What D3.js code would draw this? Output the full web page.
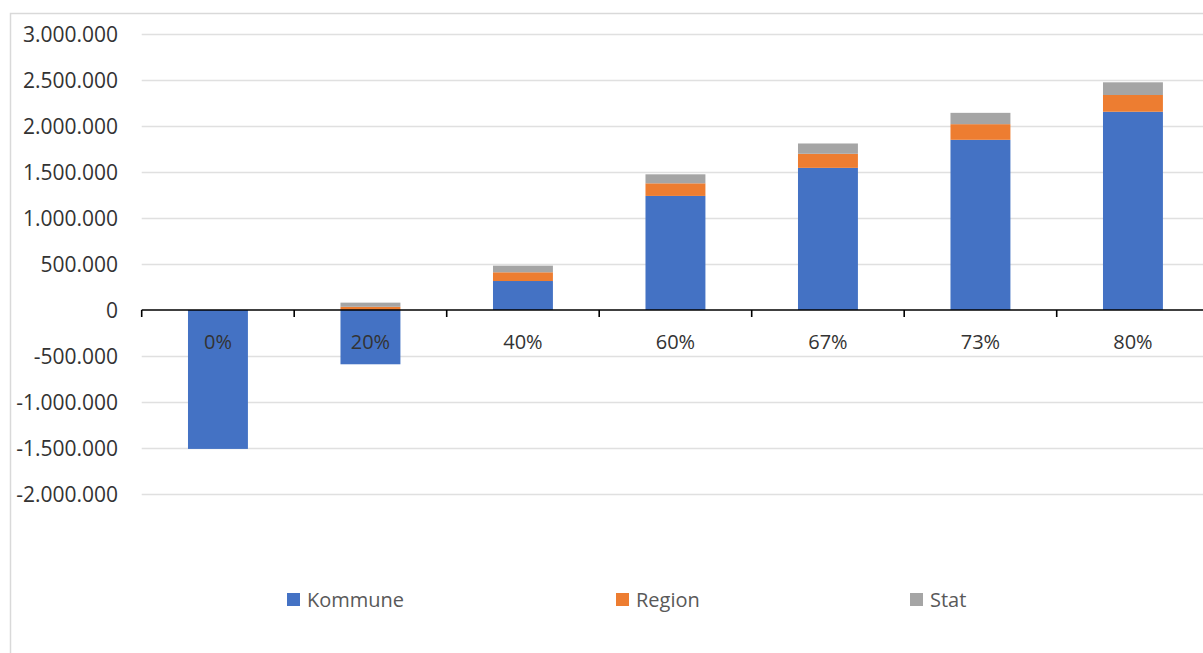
<!DOCTYPE html>
<html>
<head>
<meta charset="utf-8">
<script src="https://cdn.jsdelivr.net/npm/d3@7"></script>
<style>
  html, body { margin: 0; padding: 0; background: #fff; }
  svg { display: block; }
  text { font-family: "Open Sans", "Liberation Sans", sans-serif; }
</style>
</head>
<body>
<svg id="chart" width="1203" height="653"></svg>
<script>
// ---- Data ----
const categories = ["0%", "20%", "40%", "60%", "67%", "73%", "80%"];
const seriesNames = ["Kommune", "Region", "Stat"];
const kommune = [-1510000, -590000, 315000, 1240000, 1545000, 1850000, 2155000];
const region  = [0, 35000, 95000, 137000, 153000, 170000, 182000];
const stat    = [0, 45000, 72000, 98000, 112000, 123000, 138000];
const yTicks  = [-2000000, -1500000, -1000000, -500000, 0, 500000, 1000000, 1500000, 2000000, 2500000, 3000000];

// ---- Layout / style ----
const W = 1203, H = 653;
const colors = {Kommune: "#4472C4", Region: "#ED7D31", Stat: "#A5A5A5"};
const plotLeft = 141.7, slot = 152.5;
const svg = d3.select("#chart");
svg.append("rect").attr("width", W).attr("height", H).attr("fill", "#fff");

// chart-area border (top & left visible)
svg.append("path")
  .attr("d", `M10.5,${H} L10.5,13.5 L${W},13.5`)
  .attr("fill", "none").attr("stroke", "#d9d9d9").attr("stroke-width", 1.5);

const x = d3.scaleBand().domain(categories)
  .range([plotLeft, plotLeft + slot * categories.length])
  .paddingInner(0.607).paddingOuter(0.3035);
const y = d3.scaleLinear().domain([-2000000, 3000000]).range([494, 34]);

const loc = d3.formatLocale({decimal: ",", thousands: ".", grouping: [3], currency: ["", " kr"], minus: "-"});
const fmt = loc.format(",.0f");

// gridlines
const grid = svg.append("g").attr("transform", `translate(${plotLeft},0)`)
  .call(d3.axisLeft(y).tickValues(yTicks.filter(t => t !== 0)).tickSize(-(W - plotLeft)).tickFormat(""));
grid.select(".domain").remove();
grid.selectAll("line").attr("stroke", "#e0e0e0").attr("stroke-width", 1.6);

// y labels
const yAx = svg.append("g").attr("transform", `translate(${plotLeft},0)`)
  .call(d3.axisLeft(y).tickValues(yTicks).tickSize(0).tickPadding(23.7).tickFormat(fmt));
yAx.select(".domain").remove();
yAx.selectAll("text").attr("font-size", 21).attr("fill", "#333").attr("dy", "0.38em");

// stacked bars
const rows = categories.map((c, i) => ({cat: c, Kommune: kommune[i], Region: region[i], Stat: stat[i]}));
const stacked = d3.stack().keys(seriesNames).offset(d3.stackOffsetDiverging)(rows);
svg.append("g").selectAll("g").data(stacked).join("g")
  .attr("fill", d => colors[d.key])
  .selectAll("rect").data(d => d).join("rect")
  .attr("x", d => x(d.data.cat))
  .attr("width", x.bandwidth())
  .attr("y", d => y(Math.max(d[0], d[1])))
  .attr("height", d => Math.abs(y(d[0]) - y(d[1])));

// x axis line and boundary ticks
const gap = (x.step() - x.bandwidth()) / 2;
const bounds = categories.map(c => x(c) - gap).concat([x(categories[categories.length - 1]) + x.bandwidth() + gap]);
svg.append("line").attr("x1", plotLeft).attr("x2", W).attr("y1", y(0)).attr("y2", y(0))
  .attr("stroke", "#000").attr("stroke-width", 1.6);
svg.append("g").selectAll("line").data(bounds).join("line")
  .attr("x1", d => d).attr("x2", d => d).attr("y1", y(0)).attr("y2", y(0) + 7)
  .attr("stroke", "#000").attr("stroke-width", 1.6);

// category labels
svg.append("g").selectAll("text").data(categories).join("text")
  .attr("x", d => x(d) + x.bandwidth() / 2).attr("y", y(0) + 39)
  .attr("text-anchor", "middle").attr("font-size", 20).attr("fill", "#333")
  .text(d => d);

// legend
const legendX = [287, 616, 910];
const lg = svg.append("g").selectAll("g").data(seriesNames).join("g")
  .attr("transform", (d, i) => `translate(${legendX[i]},593)`);
lg.append("rect").attr("width", 13).attr("height", 13).attr("fill", d => colors[d]);
lg.append("text").attr("x", 20).attr("y", 14).attr("font-size", 20).attr("fill", "#595959").text(d => d);
</script>
</body>
</html>
